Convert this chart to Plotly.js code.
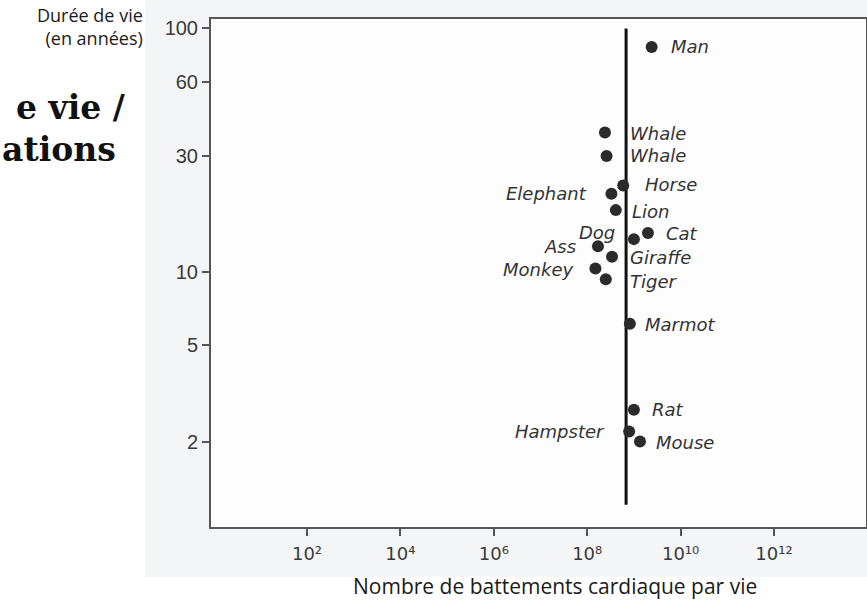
<!DOCTYPE html>
<html>
<head>
<meta charset="utf-8">
<script src="https://cdn.plot.ly/plotly-3.0.1.min.js"></script>
<style>
  html, body { margin: 0; padding: 0; background: #ffffff; }
  #chart { width: 867px; height: 603px; }
</style>
</head>
<body>
<div id="chart"></div>
<script>
// ---- Data ----
const species    = ['Man', 'Whale', 'Whale', 'Horse', 'Elephant', 'Lion', 'Dog', 'Cat', 'Ass', 'Giraffe', 'Monkey', 'Tiger', 'Marmot', 'Rat', 'Hampster', 'Mouse'];
const heartbeats = [2.4e9, 2.4e8, 2.6e8, 5.9e8, 3.3e8, 4.1e8, 1.0e9, 2.0e9, 1.7e8, 3.4e8, 1.5e8, 2.5e8, 8.2e8, 1.0e9, 7.9e8, 1.35e9];
const lifespan   = [84, 37.3, 29.9, 22.6, 20.9, 17.9, 13.6, 14.4, 12.7, 11.5, 10.3, 9.3, 6.1, 2.7, 2.2, 2.0];

// vertical reference line (constant number of heartbeats)
const refLineX = [6.8e8, 6.8e8];
const refLineY = [1.1, 100];

// tick labels
const xTickVals = [1e2, 1e4, 1e6, 1e8, 1e10, 1e12];
const xTickText = ['10²', '10⁴', '10⁶', '10⁸', '10¹⁰', '10¹²'];
const yTickVals = [2, 5, 10, 30, 60, 100];
const yTickText = ['2', '5', '10', '30', '60', '100'];

// ---- label placement (style only, pixels) ----
const labelDx = [17, 23, 21, 20, -22, 14, -17, 16, -20, 16, -20, 22, 13, 16, -22, 14];
const labelDy = [0, -1, 0, 1, 0, -1, 7, 0, 0, -1, -1, -2, -1, 0, 0, -1];

const labelFont = { family: 'DejaVu Sans', size: 18, color: '#333333', style: 'italic' };

const annotations = species.map((name, i) => ({
  x: Math.log10(heartbeats[i]),
  y: Math.log10(lifespan[i]),
  xref: 'x', yref: 'y',
  text: name,
  showarrow: false,
  xanchor: labelDx[i] < 0 ? 'right' : 'left',
  yanchor: 'middle',
  xshift: labelDx[i],
  yshift: labelDy[i],
  font: labelFont
}));

// axis title and surrounding page text
annotations.push({
  xref: 'paper', yref: 'paper', x: 0.525, y: -0.117,
  text: 'Nombre de battements cardiaque par vie', showarrow: false,
  xanchor: 'center', yanchor: 'middle',
  font: { family: 'Open Sans', size: 21, color: '#1a1a1a' }
});
annotations.push({
  xref: 'paper', yref: 'paper', x: -0.1008, y: 0.985,
  text: 'Durée de vie<br>(en années)', showarrow: false, xanchor: 'right', yanchor: 'middle',
  align: 'right',
  font: { family: 'Open Sans', size: 18, color: '#1a1a1a' }
});
annotations.push({
  xref: 'paper', yref: 'paper', x: -0.1267, y: 0.826,
  text: '<b>e vie /</b>', showarrow: false, xanchor: 'right', yanchor: 'middle',
  font: { family: 'DejaVu Serif', size: 33, color: '#111111' }
});
annotations.push({
  xref: 'paper', yref: 'paper', x: -0.142, y: 0.744,
  text: '<b>ations</b>', showarrow: false, xanchor: 'right', yanchor: 'middle',
  font: { family: 'DejaVu Serif', size: 33, color: '#111111' }
});

const traces = [
  {
    x: refLineX, y: refLineY,
    type: 'scatter', mode: 'lines',
    line: { color: '#111111', width: 3 },
    hoverinfo: 'skip', showlegend: false
  },
  {
    x: heartbeats, y: lifespan,
    type: 'scatter', mode: 'markers',
    marker: { color: '#2b2b2b', size: 12 },
    showlegend: false
  }
];

const axisCommon = {
  type: 'log',
  showline: true, linecolor: '#555555', linewidth: 2, mirror: true,
  showgrid: false, zeroline: false,
  ticks: 'outside', ticklen: 7, tickwidth: 2, tickcolor: '#555555',
  tickmode: 'array'
};

const layout = {
  width: 867, height: 603, autosize: false,
  margin: { l: 211, r: 1, t: 19, b: 76, pad: 0 },
  paper_bgcolor: '#ffffff',
  plot_bgcolor: '#fdfdfd',
  showlegend: false,
  xaxis: Object.assign({}, axisCommon, {
    range: [-0.056, 13.97],
    tickvals: xTickVals, ticktext: xTickText,
    ticklabelstandoff: 2,
    tickfont: { family: 'DejaVu Sans', size: 18, color: '#3a3a3a' }
  }),
  yaxis: Object.assign({}, axisCommon, {
    range: [-0.0506, 2.039],
    tickvals: yTickVals, ticktext: yTickText,
    tickfont: { family: 'Liberation Sans', size: 20, color: '#3a3a3a' }
  }),
  shapes: [
    {
      type: 'rect', xref: 'paper', yref: 'paper', layer: 'below',
      x0: -0.1008, x1: 1.01, y0: -0.098, y1: 1.05,
      fillcolor: '#f4f5f7', line: { width: 0 }
    },
    {
      type: 'rect', xref: 'paper', yref: 'paper', layer: 'below',
      x0: 0, x1: 1, y0: 0, y1: 1,
      fillcolor: '#fdfdfd', line: { width: 0 }
    }
  ],
  annotations: annotations
};

Plotly.newPlot('chart', traces, layout, { displayModeBar: false, staticPlot: true });
</script>
</body>
</html>
